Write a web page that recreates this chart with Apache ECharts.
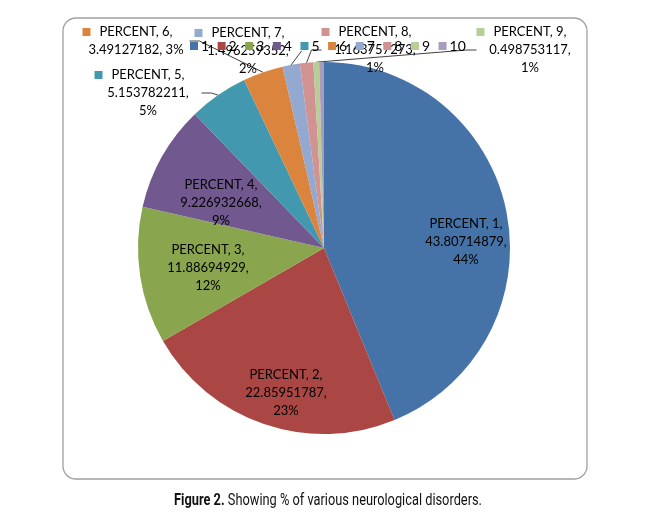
<!DOCTYPE html>
<html>
<head>
<meta charset="utf-8">
<script src="https://cdn.jsdelivr.net/npm/echarts@6/dist/echarts.min.js"></script>
<style>
html,body{margin:0;padding:0;background:#fff;}
#chart{width:651px;height:522px;}
</style>
</head>
<body>
<div id="chart"></div>
<script>
// ---- data ----
var categories = ['1','2','3','4','5','6','7','8','9','10'];
var seriesName = 'PERCENT';
var values = [43.80714879, 22.85951787, 11.88694929, 9.226932668, 5.153782211,
              3.49127182, 1.496259352, 1.163757273, 0.498753117, 0.415627598];
var pctLabels = ['44%','23%','12%','9%','5%','3%','2%','1%','1%','0%'];
var colors = ['#4572A7','#AA4643','#89A54E','#71588F','#4198AF',
              '#DB843D','#93A9CF','#D19392','#B9CD96','#A99BBD'];

// ---- label layout (styling/placement only) ----
var labelPlace = [
  {x:466,y:242,inside:true},
  {x:286,y:393,inside:true},
  {x:208,y:268,inside:true},
  {x:221,y:203,inside:true},
  {x:148,y:93,key:true},
  {x:136,y:41,key:true,twoLine:true},
  {x:248,y:51,key:true},
  {x:375,y:50,key:true},
  {x:530,y:50,key:true},
  null
];

function fmtLabel(i){
  var p = labelPlace[i];
  if(!p) return '';
  var name = seriesName + ', ' + categories[i] + ',';
  var first = p.key ? ('{k' + i + '|}{g|}' + name + '{g2|}') : name;
  if(p.twoLine){
    return first + '\n' + values[i] + ', ' + pctLabels[i];
  }
  return first + '\n' + values[i] + ',\n' + pctLabels[i];
}

var rich = {g:{width:9}, g2:{width:17}};
colors.forEach(function(c,i){
  rich['k'+i] = {width:8,height:8,backgroundColor:c};
});

var data = categories.map(function(c,i){
  var p = labelPlace[i];
  return {
    name: c,
    value: values[i],
    itemStyle: {color: colors[i]},
    label: {show: !!p, position: (p && p.inside) ? 'inside' : 'outside'},
    labelLine: {show: !!(p && !p.inside)}
  };
});

var capFont = 'Roboto, "Liberation Sans", sans-serif';

var chart = echarts.init(document.getElementById('chart'));
chart.setOption({
  animation: false,
  backgroundColor: '#fff',
  graphic: [
    {type:'rect', shape:{x:63,y:18,width:524,height:461,r:13},
     style:{fill:'none',stroke:'#a0a0a0',lineWidth:1.3}, z:-10},
    {type:'text', x:328, y:501, scaleX:0.8,
     style:{
       text:'{b|Figure 2.} Showing % of various neurological disorders.',
       fontFamily: capFont, fontSize:16,
       fill:'#111',
       textAlign:'center', textVerticalAlign:'middle',
       rich:{b:{fontWeight:'bold',fontSize:16,fontFamily:capFont,fill:'#111'}}
     }}
  ],
  legend: {
    data: categories,
    left: 185, top: 34,
    orient:'horizontal',
    itemWidth: 8, itemHeight: 8, itemGap: 8.5,
    icon: 'rect',
    textStyle: {fontFamily:'Lato, "Open Sans", sans-serif', fontSize:14, color:'#000', padding:[0,0,0,-2]},
    z: 10
  },
  series: [{
    type: 'pie',
    center: [324, 248],
    radius: 186,
    startAngle: 90,
    clockwise: true,
    avoidLabelOverlap: false,
    itemStyle: {borderWidth: 0},
    label: {
      formatter: function(p){ return fmtLabel(p.dataIndex); },
      fontFamily: 'Lato, "Open Sans", sans-serif',
      fontSize: 13,
      lineHeight: 18,
      color: '#000',
      align: 'center',
      rich: rich
    },
    labelLine: {
      show: true,
      length: 10, length2: 10,
      lineStyle: {color: '#404040', width: 1}
    },
    labelLayout: function(params){
      var p = labelPlace[params.dataIndex];
      if(!p) return {};
      return {x: p.x, y: p.y, align: 'center', verticalAlign: 'middle'};
    },
    emphasis: {disabled: true},
    data: data
  }]
});
</script>
</body>
</html>
